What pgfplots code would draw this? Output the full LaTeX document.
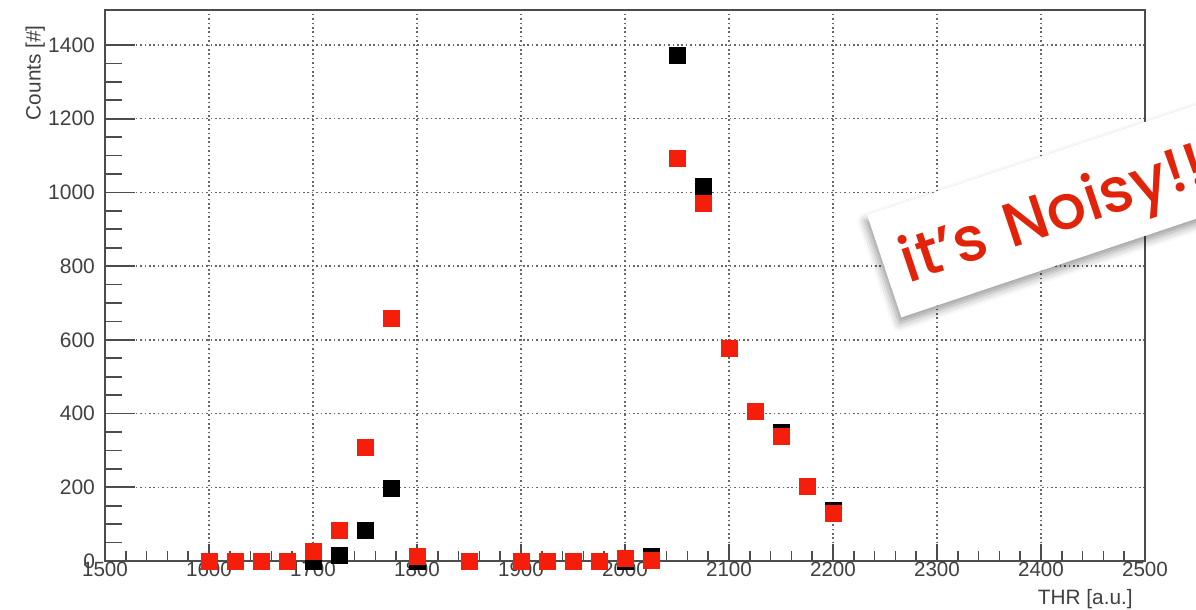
\documentclass[border=0pt]{standalone}
\usepackage{fontspec}
\setmainfont{Liberation Sans}
\newfontfamily\noisyfont{Poppins}[UprightFont=* Medium]
\usepackage{pgfplots}
\pgfplotsset{compat=1.18}
\usetikzlibrary{shadows.blur}
\definecolor{mred}{RGB}{245,30,10}
\definecolor{nred}{RGB}{225,35,10}
\pgfplotstableread{
x y
1600 0
1625 0
1650 0
1675 0
1700 0
1725 16
1750 84
1775 198
1800 0
1850 0
1900 0
1925 0
1950 0
1975 0
2000 0
2025 13
2050 1373
2075 1017
2100 578
2125 407
2150 350
2175 203
2200 138
}\blackdata
\pgfplotstableread{
x y
1600 0
1625 0
1650 0
1675 0
1700 27
1725 84
1750 309
1775 659
1800 13
1850 0
1900 0
1925 0
1950 0
1975 0
2000 8
2025 3
2050 1093
2075 971
2100 578
2125 407
2150 339
2175 203
2200 130
}\reddata
\begin{document}
\begin{tikzpicture}[x=1pt,y=1pt]
\useasboundingbox (-52.5,-24.5) rectangle (545.5,280.5);
\begin{axis}[
  at={(0,0)}, anchor=south west,
  scale only axis, width=520pt, height=275.5pt,
  xmin=1500, xmax=2500, ymin=0, ymax=1495,
  xtick={1500,1600,...,2500}, ytick={0,200,...,1400},
  minor x tick num=4, minor y tick num=3,
  tick pos=left, tick align=inside,
  xtick style={/pgfplots/major tick length=8.5pt, /pgfplots/minor tick length=5pt, draw=black!70, line width=0.8pt},
  ytick style={/pgfplots/major tick length=15pt, /pgfplots/minor tick length=8.5pt, draw=black!70, line width=0.8pt},
  grid=major,
  major grid style={black!60, line width=0.7pt, dash pattern=on 0.8pt off 1.4pt},
  axis line style={draw=black!70, line width=1pt},
  scaled ticks=false,
  /pgf/number format/assume math mode=true,
  xticklabel style={/pgf/number format/1000 sep={}, font=\fontsize{10.3}{12}\selectfont, text=black!75, inner sep=0.5pt},
  yticklabel style={/pgf/number format/1000 sep={}, font=\fontsize{10.5}{12}\selectfont, text=black!75, xshift=-1.5pt},
  xlabel={THR [a.u.]}, ylabel={Counts [\#]},
  xlabel style={font=\fontsize{10.4}{12}\selectfont, text=black!75, at={(axis description cs:0.995,-0.069)}, anchor=east},
  ylabel style={font=\fontsize{10.4}{12}\selectfont, text=black!75, at={(axis description cs:-0.067,0.985)}, anchor=east},
]
\addplot[only marks, mark=square*, mark size=4pt, mark options={fill=black, draw=black, line width=0.1pt}] table[x=x,y=y] {\blackdata};
\addplot[only marks, mark=square*, mark size=4pt, mark options={fill=mred, draw=mred, line width=0.1pt}] table[x=x,y=y] {\reddata};
\end{axis}
\node[fill=white, rotate=18.5, text width=200pt, minimum height=54pt, inner xsep=9pt, align=left,
      font=\noisyfont\fontsize{31}{31}\selectfont, text=nred,
      blur shadow={shadow xshift=-1pt, shadow yshift=-3pt, shadow blur radius=4pt}]
      at (493,182) {\raisebox{-4pt}[\height][\depth]{it’s Noisy!!}};
\end{tikzpicture}
\end{document}
